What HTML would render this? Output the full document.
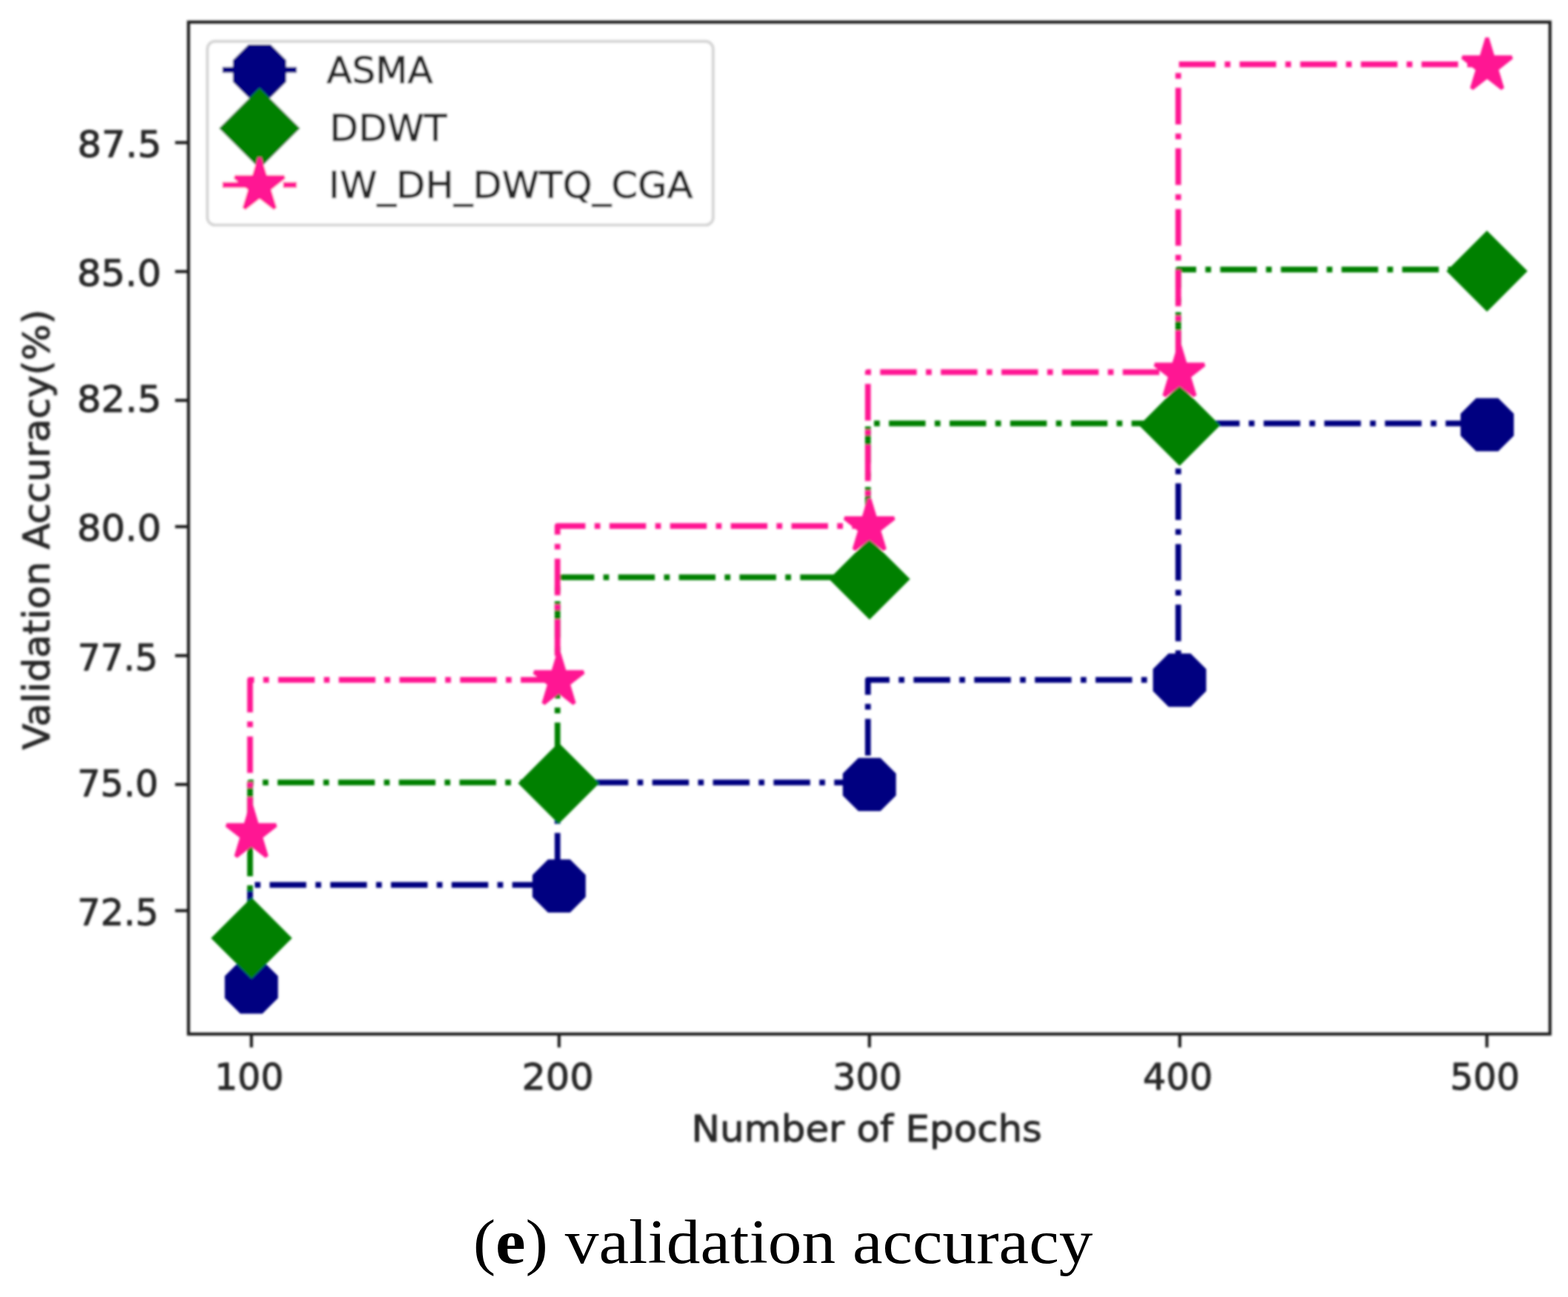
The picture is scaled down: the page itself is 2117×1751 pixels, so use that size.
<!DOCTYPE html>
<html><head><meta charset="utf-8"><title>validation accuracy</title>
<style>html,body{margin:0;padding:0;background:#fff}svg{display:block}</style></head>
<body>
<svg width="2117" height="1751" viewBox="0 0 2117 1751">
<defs><filter id="bl" x="0" y="0" width="2117" height="1751" filterUnits="userSpaceOnUse"><feGaussianBlur stdDeviation="1.5"/></filter></defs>
<rect width="2117" height="1751" fill="#fff"/>
<g filter="url(#bl)">
<path d="M337.6 1333.2 L337.6 1194.73 L752.7 1194.73 L752.7 1056.26 L1171.8 1056.26 L1171.8 917.78 L1590.8 917.78 L1590.8 571.6 L2005.5 571.6" fill="none" stroke="#000080" stroke-width="7.74" stroke-dasharray="49.44 12.36 7.72 12.36" stroke-dashoffset="-1.2" stroke-linecap="butt" stroke-linejoin="round"/>
<path d="M372.77 1346.42 L353.22 1365.97 L325.58 1365.97 L306.03 1346.42 L306.03 1318.78 L325.58 1299.23 L353.22 1299.23 L372.77 1318.78Z" fill="#000080" stroke="#000080" stroke-width="5.16" stroke-linejoin="miter"/>
<path d="M788.17 1209.92 L768.62 1229.47 L740.98 1229.47 L721.43 1209.92 L721.43 1182.28 L740.98 1162.73 L768.62 1162.73 L788.17 1182.28Z" fill="#000080" stroke="#000080" stroke-width="5.16" stroke-linejoin="miter"/>
<path d="M1207.17 1072.92 L1187.62 1092.47 L1159.98 1092.47 L1140.43 1072.92 L1140.43 1045.28 L1159.98 1025.73 L1187.62 1025.73 L1207.17 1045.28Z" fill="#000080" stroke="#000080" stroke-width="5.16" stroke-linejoin="miter"/>
<path d="M1625.97 932.02 L1606.42 951.57 L1578.78 951.57 L1559.23 932.02 L1559.23 904.38 L1578.78 884.83 L1606.42 884.83 L1625.97 904.38Z" fill="#000080" stroke="#000080" stroke-width="5.16" stroke-linejoin="miter"/>
<path d="M2041.27 587.22 L2021.72 606.77 L1994.08 606.77 L1974.53 587.22 L1974.53 559.58 L1994.08 540.03 L2021.72 540.03 L2041.27 559.58Z" fill="#000080" stroke="#000080" stroke-width="5.16" stroke-linejoin="miter"/>
<path d="M337.6 1263.97 L337.6 1056.26 L752.7 1056.26 L752.7 779.31 L1171.8 779.31 L1171.8 571.6 L1590.8 571.6 L1590.8 363.89 L2005.5 363.89" fill="none" stroke="#008000" stroke-width="7.74" stroke-dasharray="49.44 12.36 7.72 12.36" stroke-dashoffset="0.8" stroke-linecap="butt" stroke-linejoin="round"/>
<path d="M339.6 1215.42 L390.68 1266.5 L339.6 1317.58 L288.52 1266.5Z" fill="#008000" stroke="#008000" stroke-width="5.16" stroke-linejoin="miter"/>
<path d="M754.2 1006.32 L805.28 1057.4 L754.2 1108.48 L703.12 1057.4Z" fill="#008000" stroke="#008000" stroke-width="5.16" stroke-linejoin="miter"/>
<path d="M1174 730.72 L1225.08 781.8 L1174 832.88 L1122.92 781.8Z" fill="#008000" stroke="#008000" stroke-width="5.16" stroke-linejoin="miter"/>
<path d="M1592.6 523.17 L1643.68 574.25 L1592.6 625.33 L1541.52 574.25Z" fill="#008000" stroke="#008000" stroke-width="5.16" stroke-linejoin="miter"/>
<path d="M2007.6 315.02 L2058.68 366.1 L2007.6 417.18 L1956.52 366.1Z" fill="#008000" stroke="#008000" stroke-width="5.16" stroke-linejoin="miter"/>
<path d="M337.6 1125.49 L337.6 917.78 L752.7 917.78 L752.7 710.07 L1171.8 710.07 L1171.8 502.36 L1590.8 502.36 L1590.8 86.94 L2005.5 86.94" fill="none" stroke="#ff1493" stroke-width="7.74" stroke-dasharray="49.44 12.36 7.72 12.36" stroke-dashoffset="0" stroke-linecap="butt" stroke-linejoin="round"/>
<path d="M339.3 1087.85 L331.43 1113.94 L305.98 1113.94 L326.57 1130.06 L318.71 1156.14 L339.3 1140.02 L359.89 1156.14 L352.03 1130.06 L372.62 1113.94 L347.17 1113.94Z" fill="#ff1493" stroke="#ff1493" stroke-width="5.16" stroke-linejoin="bevel"/>
<path d="M754.5 881.35 L746.63 907.44 L721.18 907.44 L741.77 923.56 L733.91 949.64 L754.5 933.52 L775.09 949.64 L767.23 923.56 L787.82 907.44 L762.37 907.44Z" fill="#ff1493" stroke="#ff1493" stroke-width="5.16" stroke-linejoin="bevel"/>
<path d="M1173.8 673.45 L1165.93 699.54 L1140.48 699.54 L1161.07 715.66 L1153.21 741.74 L1173.8 725.62 L1194.39 741.74 L1186.53 715.66 L1207.12 699.54 L1181.67 699.54Z" fill="#ff1493" stroke="#ff1493" stroke-width="5.16" stroke-linejoin="bevel"/>
<path d="M1592.55 466.05 L1584.68 492.14 L1559.23 492.14 L1579.82 508.26 L1571.96 534.34 L1592.55 518.22 L1613.14 534.34 L1605.28 508.26 L1625.87 492.14 L1600.42 492.14Z" fill="#ff1493" stroke="#ff1493" stroke-width="5.16" stroke-linejoin="bevel"/>
<path d="M2007.8 51.25 L1999.93 77.34 L1974.48 77.34 L1995.07 93.46 L1987.21 119.54 L2007.8 103.42 L2028.39 119.54 L2020.53 93.46 L2041.12 77.34 L2015.67 77.34Z" fill="#ff1493" stroke="#ff1493" stroke-width="5.16" stroke-linejoin="bevel"/>
<rect x="254.5" y="29.8" width="1838.2" height="1366.2" fill="none" stroke="#1a1a1a" stroke-width="4.13" stroke-linejoin="miter"/>
<line x1="339.4" y1="1396" x2="339.4" y2="1414.06" stroke="#1a1a1a" stroke-width="4.13"/>
<line x1="754.8" y1="1396" x2="754.8" y2="1414.06" stroke="#1a1a1a" stroke-width="4.13"/>
<line x1="1173.8" y1="1396" x2="1173.8" y2="1414.06" stroke="#1a1a1a" stroke-width="4.13"/>
<line x1="1592.9" y1="1396" x2="1592.9" y2="1414.06" stroke="#1a1a1a" stroke-width="4.13"/>
<line x1="2007.5" y1="1396" x2="2007.5" y2="1414.06" stroke="#1a1a1a" stroke-width="4.13"/>
<line x1="254.5" y1="1229.4" x2="236.44" y2="1229.4" stroke="#1a1a1a" stroke-width="4.13"/>
<line x1="254.5" y1="1059.05" x2="236.44" y2="1059.05" stroke="#1a1a1a" stroke-width="4.13"/>
<line x1="254.5" y1="885.1" x2="236.44" y2="885.1" stroke="#1a1a1a" stroke-width="4.13"/>
<line x1="254.5" y1="711" x2="236.44" y2="711" stroke="#1a1a1a" stroke-width="4.13"/>
<line x1="254.5" y1="540.5" x2="236.44" y2="540.5" stroke="#1a1a1a" stroke-width="4.13"/>
<line x1="254.5" y1="366.6" x2="236.44" y2="366.6" stroke="#1a1a1a" stroke-width="4.13"/>
<line x1="254.5" y1="192.5" x2="236.44" y2="192.5" stroke="#1a1a1a" stroke-width="4.13"/>
<text id="y87.5" transform="translate(104.53 212) scale(0.9891 0.9550)" font-family="'DejaVu Sans', 'Liberation Sans', sans-serif" font-size="51.6" fill="#262626" stroke="#262626" stroke-width="1" stroke-linejoin="round">87.5</text>
<text id="y85.0" transform="translate(104.03 386) scale(0.9909 0.9550)" font-family="'DejaVu Sans', 'Liberation Sans', sans-serif" font-size="51.6" fill="#262626" stroke="#262626" stroke-width="1" stroke-linejoin="round">85.0</text>
<text id="y82.5" transform="translate(104 556.4) scale(0.9929 0.9550)" font-family="'DejaVu Sans', 'Liberation Sans', sans-serif" font-size="51.6" fill="#262626" stroke="#262626" stroke-width="1" stroke-linejoin="round">82.5</text>
<text id="y80.0" transform="translate(104.03 730.4) scale(0.9909 0.9550)" font-family="'DejaVu Sans', 'Liberation Sans', sans-serif" font-size="51.6" fill="#262626" stroke="#262626" stroke-width="1" stroke-linejoin="round">80.0</text>
<text id="y77.5" transform="translate(104.69 904.5) scale(0.9461 0.9550)" font-family="'DejaVu Sans', 'Liberation Sans', sans-serif" font-size="51.6" fill="#262626" stroke="#262626" stroke-width="1" stroke-linejoin="round">77.5</text>
<text id="y75.0" transform="translate(104.18 1074.5) scale(0.9552 0.9550)" font-family="'DejaVu Sans', 'Liberation Sans', sans-serif" font-size="51.6" fill="#262626" stroke="#262626" stroke-width="1" stroke-linejoin="round">75.0</text>
<text id="y72.5" transform="translate(104.16 1249) scale(0.9588 0.9550)" font-family="'DejaVu Sans', 'Liberation Sans', sans-serif" font-size="51.6" fill="#262626" stroke="#262626" stroke-width="1" stroke-linejoin="round">72.5</text>
<text id="x100" transform="translate(289.76 1470.9) scale(0.9472 0.9550)" font-family="'DejaVu Sans', 'Liberation Sans', sans-serif" font-size="51.6" fill="#262626" stroke="#262626" stroke-width="1" stroke-linejoin="round">100</text>
<text id="x200" transform="translate(704.54 1471.1) scale(0.9852 0.9550)" font-family="'DejaVu Sans', 'Liberation Sans', sans-serif" font-size="51.6" fill="#262626" stroke="#262626" stroke-width="1" stroke-linejoin="round">200</text>
<text id="x300" transform="translate(1124.14 1471.1) scale(0.9524 0.9550)" font-family="'DejaVu Sans', 'Liberation Sans', sans-serif" font-size="51.6" fill="#262626" stroke="#262626" stroke-width="1" stroke-linejoin="round">300</text>
<text id="x400" transform="translate(1543.08 1471.1) scale(0.9575 0.9550)" font-family="'DejaVu Sans', 'Liberation Sans', sans-serif" font-size="51.6" fill="#262626" stroke="#262626" stroke-width="1" stroke-linejoin="round">400</text>
<text id="x500" transform="translate(1957.63 1470.9) scale(0.9591 0.9550)" font-family="'DejaVu Sans', 'Liberation Sans', sans-serif" font-size="51.6" fill="#262626" stroke="#262626" stroke-width="1" stroke-linejoin="round">500</text>
<text id="xlabel" transform="translate(933.51 1541) scale(0.9974 0.9550)" font-family="'DejaVu Sans', 'Liberation Sans', sans-serif" font-size="51.6" fill="#262626" stroke="#262626" stroke-width="1" stroke-linejoin="round">Number of Epochs</text>
<text id="ylabel" transform="translate(66.3 714.9) rotate(-90) scale(0.9976 0.9550)" font-family="'DejaVu Sans', 'Liberation Sans', sans-serif" font-size="51.6" text-anchor="middle" fill="#262626" stroke="#262626" stroke-width="1" stroke-linejoin="round">Validation Accuracy(%)</text>
<rect x="280" y="55.9" width="682.8" height="247.8" rx="10.3" ry="10.3" fill="#fff" fill-opacity="0.8" stroke="#cccccc" stroke-opacity="0.8" stroke-width="4.13"/>
<path d="M300.4 94.4 L400.5 94.4" stroke="#000080" stroke-width="7.74" stroke-dasharray="49.44 12.36 7.72 12.36" fill="none"/>
<path d="M383.82 109.72 L364.27 129.27 L336.63 129.27 L317.08 109.72 L317.08 82.08 L336.63 62.53 L364.27 62.53 L383.82 82.08Z" fill="#000080" stroke="#000080" stroke-width="5.16" stroke-linejoin="miter"/>
<path d="M300.4 172 L400.5 172" stroke="#008000" stroke-width="7.74" stroke-dasharray="49.44 12.36 7.72 12.36" fill="none"/>
<path d="M350.45 122.22 L401.53 173.3 L350.45 224.38 L299.37 173.3Z" fill="#008000" stroke="#008000" stroke-width="5.16" stroke-linejoin="miter"/>
<path d="M300.4 249.7 L400.5 249.7" stroke="#ff1493" stroke-width="7.74" stroke-dasharray="49.44 12.36 7.72 12.36" fill="none"/>
<path d="M350.45 212.95 L342.58 239.04 L317.13 239.04 L337.72 255.16 L329.86 281.24 L350.45 265.12 L371.04 281.24 L363.18 255.16 L383.77 239.04 L358.32 239.04Z" fill="#ff1493" stroke="#ff1493" stroke-width="5.16" stroke-linejoin="bevel"/>
<text id="lASMA" transform="translate(441.01 111.9) scale(0.9702 0.9550)" font-family="'DejaVu Sans', 'Liberation Sans', sans-serif" font-size="51.6" fill="#262626" stroke="#262626" stroke-width="1" stroke-linejoin="round">ASMA</text>
<text id="lDDWT" transform="translate(445.11 189.5) scale(0.9760 0.9550)" font-family="'DejaVu Sans', 'Liberation Sans', sans-serif" font-size="51.6" fill="#262626" stroke="#262626" stroke-width="1" stroke-linejoin="round">DDWT</text>
<text id="lIW" transform="translate(443.54 267) scale(0.9915 0.9550)" font-family="'DejaVu Sans', 'Liberation Sans', sans-serif" font-size="51.6" fill="#262626" stroke="#262626" stroke-width="1" stroke-linejoin="round">IW_DH_DWTQ_CGA</text>
</g>
<text id="caption" transform="translate(638.65 1705.4) scale(1.0874 1)" font-family="'Liberation Serif', serif" font-size="84" fill="#000">(<tspan font-weight="bold">e</tspan>) validation accuracy</text>
</svg>
</body></html>
